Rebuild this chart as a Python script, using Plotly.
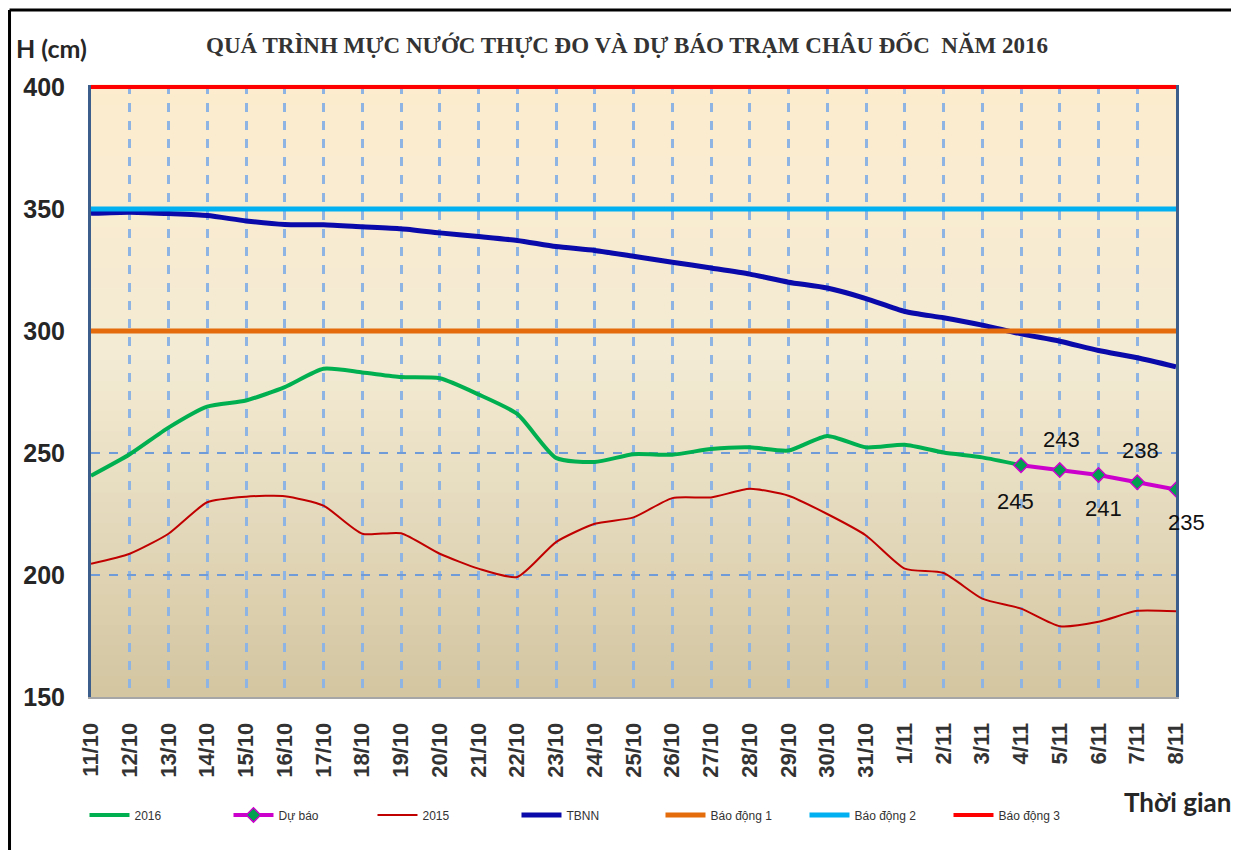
import plotly.graph_objects as go

# ---------------- data ----------------
dates = ["11/10", "12/10", "13/10", "14/10", "15/10", "16/10", "17/10", "18/10", "19/10", "20/10",
         "21/10", "22/10", "23/10", "24/10", "25/10", "26/10", "27/10", "28/10", "29/10", "30/10",
         "31/10", "1/11", "2/11", "3/11", "4/11", "5/11", "6/11", "7/11", "8/11"]

h2016 = [240.7, 249.5, 260.4, 269.0, 271.5, 277.0, 284.5, 283.0, 281.1, 280.6,
         274.0, 266.0, 248.0, 246.3, 249.5, 249.3, 251.6, 252.3, 251.0, 257.0,
         252.3, 253.4, 250.2, 248.2, 245.0]

forecast_dates = ["4/11", "5/11", "6/11", "7/11", "8/11"]
forecast = [245, 243, 241, 238, 235]

h2015 = [204.6, 208.7, 216.9, 229.8, 232.1, 232.3, 228.4, 216.9, 217.1, 208.7,
         202.6, 199.2, 213.5, 221.0, 223.6, 231.5, 231.8, 235.3, 232.5, 225.0,
         216.2, 202.6, 200.8, 190.3, 186.2, 179.0, 180.8, 185.3, 185.1]

tbnn = [348.2, 348.7, 348.1, 347.3, 345.1, 343.6, 343.5, 342.7, 341.9, 340.2,
        338.7, 337.1, 334.6, 333.0, 330.6, 328.2, 325.8, 323.3, 320.0, 317.6,
        313.3, 308.0, 305.4, 302.4, 298.8, 295.8, 292.0, 289.0, 285.3]

alarm_levels = {"Báo động 1": 300, "Báo động 2": 350, "Báo động 3": 400}
y_ticks = [150, 200, 250, 300, 350, 400]

title = "QUÁ TRÌNH MỰC NƯỚC THỰC ĐO VÀ DỰ BÁO TRẠM CHÂU ĐỐC  NĂM 2016"

# ---------------- figure ----------------
fig = go.Figure()

fig.add_trace(go.Scatter(x=dates[:len(h2016)], y=h2016, name="2016", mode="lines",
                         line=dict(color="#00B050", width=4, shape="spline", smoothing=0.6)))
fig.add_trace(go.Scatter(x=forecast_dates, y=forecast, name="Dự báo", mode="lines+markers",
                         line=dict(color="#CC00CC", width=4),
                         marker=dict(symbol="diamond", size=11, color="#00A050",
                                     line=dict(color="#CC00CC", width=1.5))))
fig.add_trace(go.Scatter(x=dates, y=h2015, name="2015", mode="lines",
                         line=dict(color="#C00000", width=2, shape="spline", smoothing=0.6)))
fig.add_trace(go.Scatter(x=dates, y=tbnn, name="TBNN", mode="lines",
                         line=dict(color="#0A0AAA", width=5, shape="spline", smoothing=0.6)))

alarm_colors = {"Báo động 1": "#E46C0A", "Báo động 2": "#00B0F0", "Báo động 3": "#FF0000"}
alarm_widths = {"Báo động 1": 5, "Báo động 2": 5, "Báo động 3": 4}
for name, lvl in alarm_levels.items():
    fig.add_trace(go.Scatter(x=dates, y=[lvl] * len(dates), name=name, mode="lines",
                             line=dict(color=alarm_colors[name], width=alarm_widths[name])))

# forecast value labels
offsets = [(-6, -36), (2, 31), (5, -34), (3, 32), (10, -33)]
for d, v, (dx, dy) in zip(forecast_dates, forecast, offsets):
    fig.add_annotation(x=d, y=v, text=str(v), showarrow=False, xshift=dx, yshift=dy,
                       xanchor="center", yanchor="middle",
                       font=dict(family="Liberation Sans, Arial", size=22, color="#111111"))

# background gradient (strips)
def lerp(c1, c2, t):
    return tuple(round(a + (b - a) * t) for a, b in zip(c1, c2))

stops = [(0.0, (253, 236, 206)), (0.45, (243, 235, 212)), (1.0, (211, 197, 160))]
n = 60
shapes = []
for i in range(n):
    f = (i + 0.5) / n  # fraction from top
    for (p0, c0), (p1, c1) in zip(stops[:-1], stops[1:]):
        if p0 <= f <= p1:
            col = lerp(c0, c1, (f - p0) / (p1 - p0))
            break
    y1 = 1 - i / n
    y0 = 1 - (i + 1) / n
    shapes.append(dict(type="rect", xref="x domain", yref="y domain", x0=0, x1=1,
                       y0=y0 - 0.001, y1=y1 + 0.001, fillcolor="rgb(%d,%d,%d)" % col,
                       line=dict(width=0), layer="below"))

# outer frame (left & top black lines)
fx = -0.0751
shapes.append(dict(type="line", xref="paper", yref="paper", x0=fx, x1=fx,
                   y0=-0.4, y1=1.1225, line=dict(color="black", width=3)))
shapes.append(dict(type="line", xref="paper", yref="paper", x0=fx, x1=1.2,
                   y0=1.1225, y1=1.1225, line=dict(color="black", width=3)))

fig.update_layout(shapes=shapes)

# texts
fig.add_annotation(xref="paper", yref="paper", x=0.494, y=1.065, text=title,
                   xanchor="center", yanchor="middle", showarrow=False,
                   font=dict(family="Liberation Serif, Times New Roman", size=23,
                             color="#333333", weight="bold"))
fig.add_annotation(xref="paper", yref="paper", x=-0.036, y=1.0605, text="H (cm)",
                   xanchor="center", yanchor="middle", showarrow=False,
                   font=dict(family="Lato, Open Sans", size=25, color="#262626", weight="bold"))
fig.add_annotation(xref="paper", yref="paper", x=1.0018, y=-0.1716, text="Thời gian",
                   xanchor="center", yanchor="middle", showarrow=False,
                   font=dict(family="Lato, Open Sans", size=26, color="#262626", weight="bold"))

# page body has an 8px margin; compensate so the plot area lands at x 91-1176, y 85-697
fig.update_layout(
    width=1239, height=850,
    margin=dict(l=83, r=71, t=77, b=161),
    paper_bgcolor="white",
    plot_bgcolor="#F5ECD5",
    showlegend=True,
    legend=dict(orientation="h", x=-0.006, y=-0.1928, xanchor="left", yanchor="middle",
                font=dict(family="Liberation Sans, Arial", size=12, color="#333333"),
                itemwidth=40, entrywidth=89, entrywidthmode="pixels",
                bgcolor="rgba(0,0,0,0)"),
)

fig.update_xaxes(type="category", categoryorder="array", categoryarray=dates,
                 range=[0, len(dates) - 1], tickangle=-90, automargin=False,
                 tickfont=dict(family="Liberation Sans, Arial", size=22, color="#333333",
                               weight="bold"),
                 showgrid=True, gridcolor="#8DB4E2", gridwidth=2.5, griddash="dash",
                 showline=True, linecolor="#A6A6A6", linewidth=2, mirror=False,
                 ticks="", ticklabelstandoff=15, zeroline=False)
fig.update_yaxes(range=[150, 400.8], tickvals=y_ticks, automargin=False,
                 tickfont=dict(family="Liberation Sans, Arial", size=25, color="#262626",
                               weight="bold"),
                 showgrid=True, gridcolor="#6F9BD8", gridwidth=1.5, griddash="dash",
                 showline=True, linecolor="#3B5E8C", linewidth=3, mirror=True,
                 ticks="", ticklabelstandoff=18, zeroline=False)

fig.write_html("out.html")
